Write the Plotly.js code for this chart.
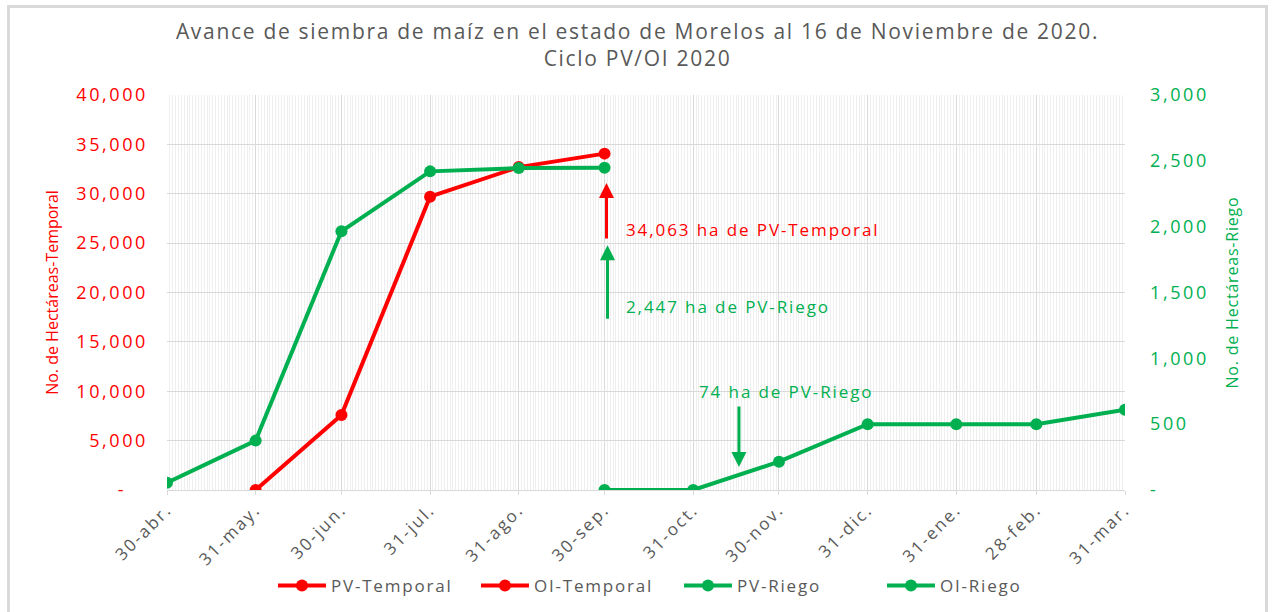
<!DOCTYPE html>
<html>
<head>
<meta charset="utf-8">
<script src="https://cdn.plot.ly/plotly-3.0.1.min.js"></script>
<style>
html,body{margin:0;padding:0;background:#fff;}
#wrap{position:relative;width:1275px;height:612px;}
#chart{position:absolute;left:0;top:0;width:1275px;height:612px;}
#frame{position:absolute;left:7px;top:5px;width:1261px;height:620px;border:3px solid #d9d9d9;box-sizing:border-box;pointer-events:none;}
#chart g.ytick text, #chart g.y2tick text{letter-spacing:2.6px;}
#chart g.xtick text{letter-spacing:2.2px;}
text.legendtext{letter-spacing:1.8px;}
text.annotation-text{letter-spacing:1.9px;}
text.gtitle{letter-spacing:1.7px;}
text.y2title{letter-spacing:0.8px;}
</style>
</head>
<body>
<div id="wrap"><div id="chart"></div><div id="frame"></div></div>
<script>
// ---- data ----
const tickDates = ['2020-04-30','2020-05-31','2020-06-30','2020-07-31','2020-08-31','2020-09-30','2020-10-31','2020-11-30','2020-12-31','2021-01-31','2021-02-28','2021-03-31'];
const tickLabels = ['30-abr.','31-may.','30-jun.','31-jul.','31-ago.','30-sep.','31-oct.','30-nov.','31-dic.','31-ene.','28-feb.','31-mar.'];

const pvTemporalDates = ['2020-05-31','2020-06-30','2020-07-31','2020-08-31','2020-09-30'];
const pvTemporalValues = [0, 7600, 29700, 32700, 34063];

const oiTemporalDates = ['2020-09-30'];
const oiTemporalValues = [null];

const pvRiegoDates = ['2020-04-30','2020-05-31','2020-06-30','2020-07-31','2020-08-31','2020-09-30'];
const pvRiegoValues = [55, 375, 1965, 2420, 2445, 2447];

const oiRiegoDates = ['2020-09-30','2020-10-31','2020-11-30','2020-12-31','2021-01-31','2021-02-28','2021-03-31'];
const oiRiegoValues = [0, 0, 215, 500, 500, 500, 610];

const oiRiegoNoteDate = '2020-11-16';
const oiRiegoNoteValue = 74;

const leftTickVals = [0,5000,10000,15000,20000,25000,30000,35000,40000];
const rightTickVals = [0,500,1000,1500,2000,2500,3000];

// ---- styling ----
const RED = '#FF0000';
const GREEN = '#00B050';
const GREY = '#595959';
const FONT = 'Open Sans, sans-serif';
const fmt = v => v === 0 ? '-\u00a0\u00a0\u00a0' : v.toLocaleString('en-US');
const fmtR = v => v === 0 ? '-' : v.toLocaleString('en-US');

function tr(name, x, y, color, axis){
  return {type:'scatter', mode:'lines+markers', name:name, x:x, y:y, yaxis:axis,
    line:{color:color, width:4}, marker:{color:color, size:12}};
}

const data = [
  tr('PV-Temporal', pvTemporalDates, pvTemporalValues, RED, 'y'),
  tr('OI-Temporal', oiTemporalDates, oiTemporalValues, RED, 'y'),
  tr('PV-Riego', pvRiegoDates, pvRiegoValues, GREEN, 'y2'),
  tr('OI-Riego', oiRiegoDates, oiRiegoValues, GREEN, 'y2')
];

const lastT = pvTemporalValues[pvTemporalValues.length-1];
const lastTDate = pvTemporalDates[pvTemporalDates.length-1];
const lastR = pvRiegoValues[pvRiegoValues.length-1];
const lastRDate = pvRiegoDates[pvRiegoDates.length-1];

const annotations = [
  {x:lastTDate, y:lastT*0.913, xref:'x', yref:'y', text:'', showarrow:true, arrowhead:2, arrowsize:1, arrowwidth:3, arrowcolor:RED, ax:0, ay:57, xshift:2},
  {x:lastTDate, y:lastT*0.773, xref:'x', yref:'y', text:fmtR(lastT)+' ha de PV-Temporal', showarrow:false, xanchor:'left', xshift:19, font:{family:FONT, size:17, color:RED}},
  {x:lastRDate, y:lastR*0.76, xref:'x', yref:'y2', text:'', showarrow:true, arrowhead:2, arrowsize:1, arrowwidth:3, arrowcolor:GREEN, ax:0, ay:75, xshift:3},
  {x:lastRDate, y:lastR*0.571, xref:'x', yref:'y2', text:fmtR(lastR)+' ha de PV-Riego', showarrow:false, xanchor:'left', xshift:19, font:{family:FONT, size:17, color:GREEN}},
  {x:oiRiegoNoteDate, y:175, xref:'x', yref:'y2', text:'', showarrow:true, arrowhead:2, arrowsize:1, arrowwidth:3, arrowcolor:GREEN, ax:0, ay:-62},
  {x:oiRiegoNoteDate, y:745, xref:'x', yref:'y2', text:oiRiegoNoteValue+' ha de PV-Riego', showarrow:false, xanchor:'center', xshift:47, font:{family:FONT, size:17, color:GREEN}}
];

const layout = {
  width:1275, height:612,
  margin:{l:167, r:150, t:95, b:122},
  paper_bgcolor:'rgba(0,0,0,0)', plot_bgcolor:'#fff',
  font:{family:FONT, color:GREY},
  title:{text:'Avance de siembra de maíz en el estado de Morelos al 16 de Noviembre de 2020.<br>Ciclo PV/OI 2020',
    x:0.5, xanchor:'center', y:0.936, yanchor:'top', font:{family:FONT, size:21, color:GREY}},
  xaxis:{type:'date', automargin:false, range:[tickDates[0], tickDates[tickDates.length-1]],
    tickmode:'array', tickvals:tickDates, ticktext:tickLabels, tickangle:-45,
    tickfont:{family:FONT, size:17, color:GREY}, ticklabelstandoff:-2,
    showgrid:true, gridcolor:'#d9d9d9', gridwidth:1,
    minor:{showgrid:true, tickmode:'linear', tick0:'2020-04-30', dtick:86400000, gridcolor:'#efefef', gridwidth:1},
    showline:true, linecolor:'#d9d9d9', zeroline:false, ticks:'outside', ticklen:4, tickcolor:'#d9d9d9'},
  yaxis:{range:[0,40000], automargin:false, tickmode:'array', tickvals:leftTickVals, ticktext:leftTickVals.map(fmt),
    tickfont:{family:FONT, size:18, color:RED}, showgrid:true, gridcolor:'#d9d9d9', zeroline:false,
    ticklabelstandoff:18,
    title:{text:'No. de Hectáreas-Temporal', font:{family:FONT, size:16, color:RED}, standoff:29}},
  yaxis2:{range:[0,3000], automargin:false, overlaying:'y', side:'right', tickmode:'array', tickvals:rightTickVals, ticktext:rightTickVals.map(fmtR),
    tickfont:{family:FONT, size:18, color:GREEN}, showgrid:false, zeroline:false,
    ticklabelstandoff:24,
    title:{text:'No. de Hectáreas-Riego', font:{family:FONT, size:16, color:GREEN}, standoff:31}},
  showlegend:true,
  legend:{orientation:'h', xref:'container', yref:'container', x:0.2141, xanchor:'left', y:0.0425, yanchor:'middle',
    font:{family:FONT, size:17, color:GREY}, itemwidth:48, tracegroupgap:0,
    entrywidth:140, entrywidthmode:'pixels'},
  annotations:annotations
};

Plotly.newPlot('chart', data, layout, {displayModeBar:false, staticPlot:true});
</script>
</body>
</html>
